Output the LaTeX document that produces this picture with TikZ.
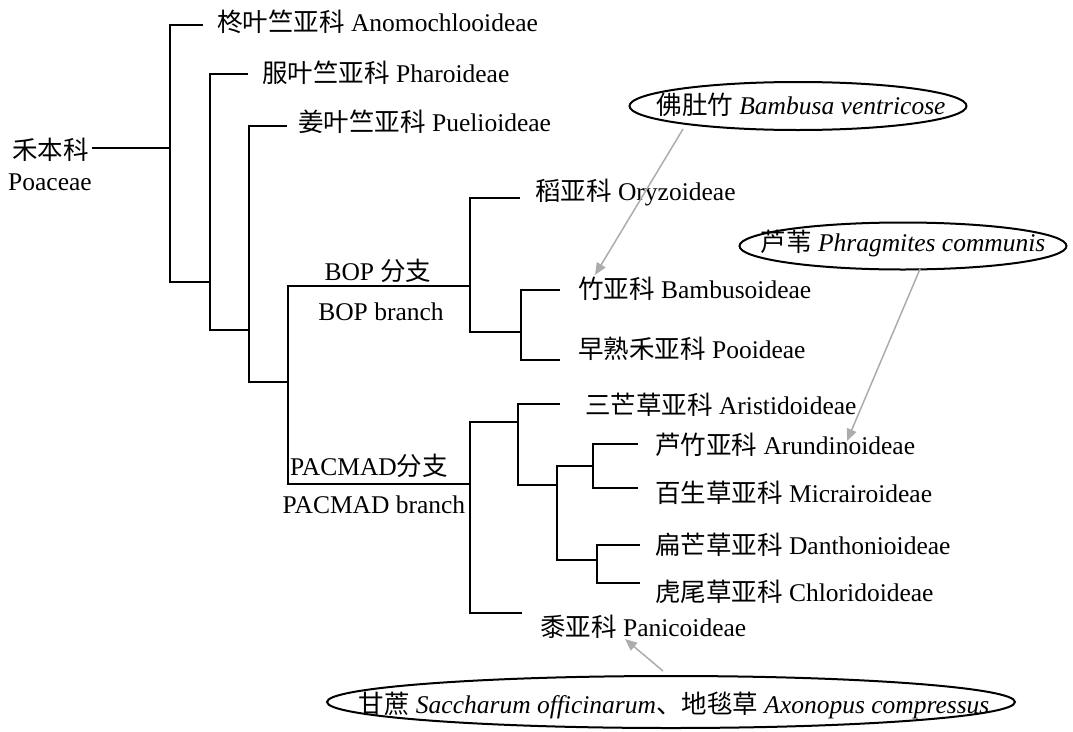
\documentclass[tikz,border=0pt]{standalone}
\usepackage{fontspec}
\setmainfont{Liberation Serif}
\newfontfamily\zhfont{Noto Sans CJK SC}
\usetikzlibrary{arrows.meta}
\begin{document}
\begin{tikzpicture}[x=1pt,y=-1pt,
  tree/.style={line width=2pt, black},
  lab/.style={anchor=west, inner sep=0pt, font=\fontsize{25.5}{30}\selectfont},
  ctext/.style={inner sep=0pt, font=\fontsize{25.5}{30}\selectfont},
  oval/.style={draw=black, line width=2pt},
  pointer/.style={draw=gray!65, line width=1.5pt, -{Triangle[length=12pt,width=10pt,fill=gray!65]}}]
\useasboundingbox (0,0) rectangle (1073,731);

% ---- labels ----
\node[lab] (poa1) at (12,150) {{\zhfont 禾本科}};
\node[lab] (poa2) at (8,182) {Poaceae};
\node[lab] (ano) at (217,22) {{\zhfont 柊叶竺亚科} Anomochlooideae};
\node[lab] (pha) at (262,73) {{\zhfont 服叶竺亚科} Pharoideae};
\node[lab] (pue) at (298,122) {{\zhfont 姜叶竺亚科} Puelioideae};
\node[lab] (ory) at (535,193) {{\zhfont 稻亚科} Oryzoideae};
\node[lab] (bam) at (578,289) {{\zhfont 竹亚科} Bambusoideae};
\node[lab] (poo) at (578,349) {{\zhfont 早熟禾亚科} Pooideae};
\node[lab] (ari) at (585,405) {{\zhfont 三芒草亚科} Aristidoideae};
\node[lab] (aru) at (655,445) {{\zhfont 芦竹亚科} Arundinoideae};
\node[lab] (mic) at (655,493) {{\zhfont 百生草亚科} Micrairoideae};
\node[lab] (dan) at (655,545) {{\zhfont 扁芒草亚科} Danthonioideae};
\node[lab] (chl) at (655,592) {{\zhfont 虎尾草亚科} Chloridoideae};
\node[lab] (pan) at (540,627) {{\zhfont 黍亚科} Panicoideae};

\node[ctext] (bop1) at (378,271) {BOP {\zhfont 分支}};
\node[ctext] (bop2) at (381,312) {BOP branch};
\node[ctext] (pac1) at (369,466) {PACMAD{\zhfont 分支}};
\node[ctext] (pac2) at (374,505) {PACMAD branch};

% ---- tree ----
\coordinate (r0) at (92,148);
\coordinate (r1) at (170,148);
\draw[tree] (r0) -- (r1);
\draw[tree] (203,25) -- (170,25) -- (170,282) -- (210,282);
\draw[tree] (248,74) -- (210,74) -- (210,330) -- (249,330);
\draw[tree] (287,126) -- (249,126) -- (249,382) -- (288,382);
\draw[tree] (470,286) -- (288,286) -- (288,484) -- (470,484);
\draw[tree] (520,198) -- (470,198) -- (470,332) -- (521,332);
\draw[tree] (560,290) -- (521,290) -- (521,360) -- (560,360);
\draw[tree] (518,422) -- (470,422) -- (470,613) -- (522,613);
\draw[tree] (560,404) -- (518,404) -- (518,485) -- (557,485);
\draw[tree] (593,466) -- (557,466) -- (557,560) -- (597,560);
\draw[tree] (638,444) -- (593,444) -- (593,488) -- (638,488);
\draw[tree] (640,545) -- (597,545) -- (597,583) -- (640,583);

% ---- ovals ----
\node[ctext] (e1) at (801,105) {{\zhfont 佛肚竹} \textit{Bambusa ventricose}};
\draw[oval] (798,106) ellipse [x radius=168.5, y radius=24];
\node[ctext] (e2) at (903,244) {{\zhfont 芦苇} \textit{Phragmites communis}};
\draw[oval] (903,246) ellipse [x radius=163.5, y radius=23.5];
\node[ctext] (e3) at (674,705) {{\zhfont 甘蔗} \textit{Saccharum officinarum}{\zhfont 、地毯草} \textit{Axonopus compressus}};
\draw[oval] (671,702) ellipse [x radius=344, y radius=26];

% ---- pointers ----
\coordinate (s1) at (683,129);
\coordinate (t1) at (595,275);
\coordinate (s2) at (920,269);
\coordinate (t2) at (847,441);
\coordinate (s3) at (663,671);
\coordinate (t3) at (625,639);
\draw[pointer] (s1) -- (t1);
\draw[pointer] (s2) -- (t2);
\draw[pointer] (s3) -- (t3);
\end{tikzpicture}
\end{document}
